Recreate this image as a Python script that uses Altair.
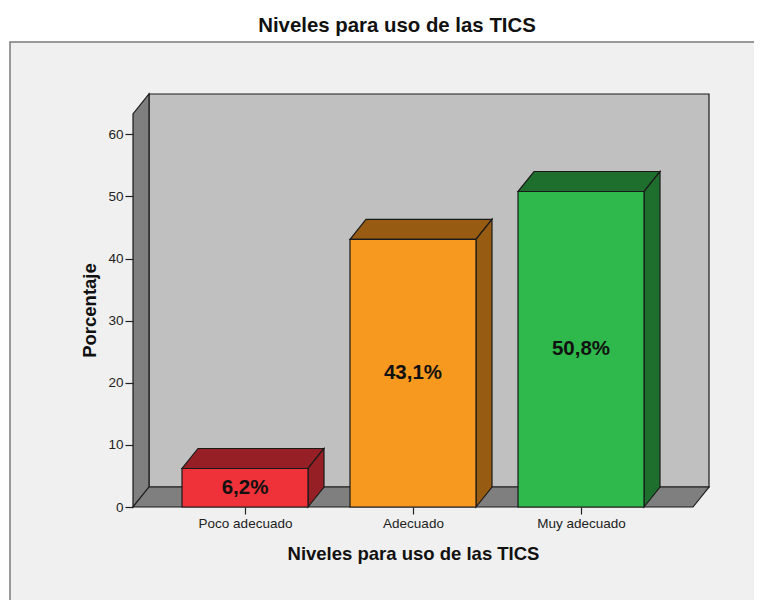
import altair as alt
import pandas as pd

# ---- data ----
categories = ["Poco adecuado", "Adecuado", "Muy adecuado"]
percentages = [6.2, 43.1, 50.8]
value_labels = ["6,2%", "43,1%", "50,8%"]
y_ticks = [0, 10, 20, 30, 40, 50, 60]
chart_title = "Niveles para uso de las TICS"
x_title = "Niveles para uso de las TICS"
y_title = "Porcentaje"

# ---- styles ----
front_colors = ["#ef323a", "#f7991f", "#2fb84b"]
shade_colors = ["#951f25", "#985b12", "#1e6f2e"]
WALL_BACK = "#c0c0c0"
WALL_SIDE = "#7f7f7f"
EDGE = "#1a1a1a"
FONT = "Liberation Sans"

# ---- geometry of the pseudo-3D frame ----
W, H = 577, 413
PX_PER_CAT = 168.0
X0 = -2.0 / 3.0
X_MAX = X0 + W / PX_PER_CAT
Y_MAX = 66.5
DX = 16.0 / PX_PER_CAT
DY = 20.0 * Y_MAX / H
HALF = 0.375
FLOOR_RIGHT = len(categories) - 1 + 2.0 / 3.0

xscale = alt.Scale(domain=[X0, X_MAX], nice=False, zero=False)
yscale = alt.Scale(domain=[0, Y_MAX], nice=False, zero=False)

label_expr = " : ".join(
    f"datum.value == {i} ? '{c}'" for i, c in enumerate(categories[:-1])
) + f" : '{categories[-1]}'"

xaxis = alt.Axis(
    values=list(range(len(categories))), labelExpr=label_expr, title=x_title,
    grid=False, domain=False, tickSize=7, tickColor="#222", tickWidth=1.2,
    labelFont=FONT, labelFontSize=13.5, labelColor="#222", labelPadding=2,
    titleFont=FONT, titleFontSize=18.5, titleFontWeight="bold", titleColor="#111",
    titleX=280, titleY=52, titleBaseline="alphabetic", titleAlign="center",
    zindex=2,
)
yaxis = alt.Axis(
    values=y_ticks, title=y_title, grid=False, domain=False, tickSize=8,
    tickColor="#222", tickWidth=1.2,
    labelFont=FONT, labelFontSize=13.5, labelColor="#222", labelPadding=2,
    titleFont=FONT, titleFontSize=18.5, titleFontWeight="bold", titleColor="#111",
    titleAngle=270, titleX=-38, titleY=216, titleAlign="center",
    titleBaseline="alphabetic", zindex=2,
)

X = alt.X("x:Q", scale=xscale, axis=xaxis)
Y = alt.Y("y:Q", scale=yscale, axis=yaxis, stack=None)

# ---- walls and floor ----
walls = pd.DataFrame([
    {"face": "a_left", "x": X0, "y": 0.0, "y2": Y_MAX - DY, "fill": WALL_SIDE},
    {"face": "a_left", "x": X0 + DX, "y": DY, "y2": Y_MAX, "fill": WALL_SIDE},
    {"face": "b_floor", "x": X0, "y": 0.0, "y2": 0.0, "fill": WALL_SIDE},
    {"face": "b_floor", "x": X0 + DX, "y": 0.0, "y2": DY, "fill": WALL_SIDE},
    {"face": "b_floor", "x": FLOOR_RIGHT, "y": 0.0, "y2": DY, "fill": WALL_SIDE},
    {"face": "b_floor", "x": FLOOR_RIGHT + DX, "y": DY, "y2": DY, "fill": WALL_SIDE},
])
back = pd.DataFrame([{"x": X0 + DX, "x2": FLOOR_RIGHT + DX, "y": DY, "y2": Y_MAX}])

# ---- bars ----
shade_rows, front_rows, text_rows = [], [], []
for i, (v, lab) in enumerate(zip(percentages, value_labels)):
    c = float(i)
    l, r = c - HALF, c + HALF
    top = f"top{i}"
    side = f"side{i}"
    shade_rows += [
        {"face": top, "x": l, "y": v, "y2": v, "fill": shade_colors[i]},
        {"face": top, "x": l + DX, "y": v, "y2": v + DY, "fill": shade_colors[i]},
        {"face": top, "x": r, "y": v, "y2": v + DY, "fill": shade_colors[i]},
        {"face": top, "x": r + DX, "y": v + DY, "y2": v + DY, "fill": shade_colors[i]},
        {"face": side, "x": r, "y": 0.0, "y2": v, "fill": shade_colors[i]},
        {"face": side, "x": r + DX, "y": DY, "y2": v + DY, "fill": shade_colors[i]},
    ]
    front_rows.append({"cat": categories[i], "x": l, "x2": r, "y": 0.0, "y2": v,
                       "fill": front_colors[i]})
    text_rows.append({"x": c, "y": v / 2.0, "label": lab})

shades = pd.DataFrame(shade_rows)
fronts = pd.DataFrame(front_rows)
texts = pd.DataFrame(text_rows)

one = pd.DataFrame([{"k": 1}])

frame = alt.Chart(one).mark_rect(fill="#f0f0f0", stroke="#7a7a7a", strokeWidth=1.5).encode(
    x=alt.value(-123), x2=alt.value(660), y=alt.value(-52), y2=alt.value(560)
)

title_mark = alt.Chart(one).mark_text(
    text=chart_title, font=FONT, fontSize=20.4, fontWeight="bold", color="#111",
    align="center", baseline="alphabetic"
).encode(x=alt.value(264), y=alt.value(-62.5))

back_layer = alt.Chart(back).mark_rect(fill=WALL_BACK, stroke=EDGE, strokeWidth=1.2).encode(
    x=X, x2="x2:Q", y=Y, y2="y2:Q"
)

walls_layer = alt.Chart(walls).mark_area(stroke=EDGE, strokeWidth=1.2, opacity=1).encode(
    x=X, y=Y, y2="y2:Q", detail="face:N", fill=alt.Fill("fill:N", scale=None)
)

shade_layer = alt.Chart(shades).mark_area(stroke=EDGE, strokeWidth=1.2, opacity=1).encode(
    x=X, y=Y, y2="y2:Q", detail="face:N", fill=alt.Fill("fill:N", scale=None)
)

front_layer = alt.Chart(fronts).mark_rect(stroke=EDGE, strokeWidth=1.2).encode(
    x=X, x2="x2:Q", y=Y, y2="y2:Q", fill=alt.Fill("fill:N", scale=None)
)

text_layer = alt.Chart(texts).mark_text(
    font=FONT, fontSize=20.5, fontWeight="bold", color="#111", baseline="middle",
    align="center"
).encode(x=X, y=Y, text="label:N")

chart = alt.layer(
    frame, title_mark, back_layer, walls_layer, shade_layer, front_layer, text_layer
).properties(
    width=W, height=H,
    autosize=alt.AutoSizeParams(type="none"),
    padding={"left": 125, "top": 86, "right": 44, "bottom": 93},
    background="white",
).configure_view(stroke=None)

chart.save("out.html", embed_options={"renderer": "svg", "actions": False})
